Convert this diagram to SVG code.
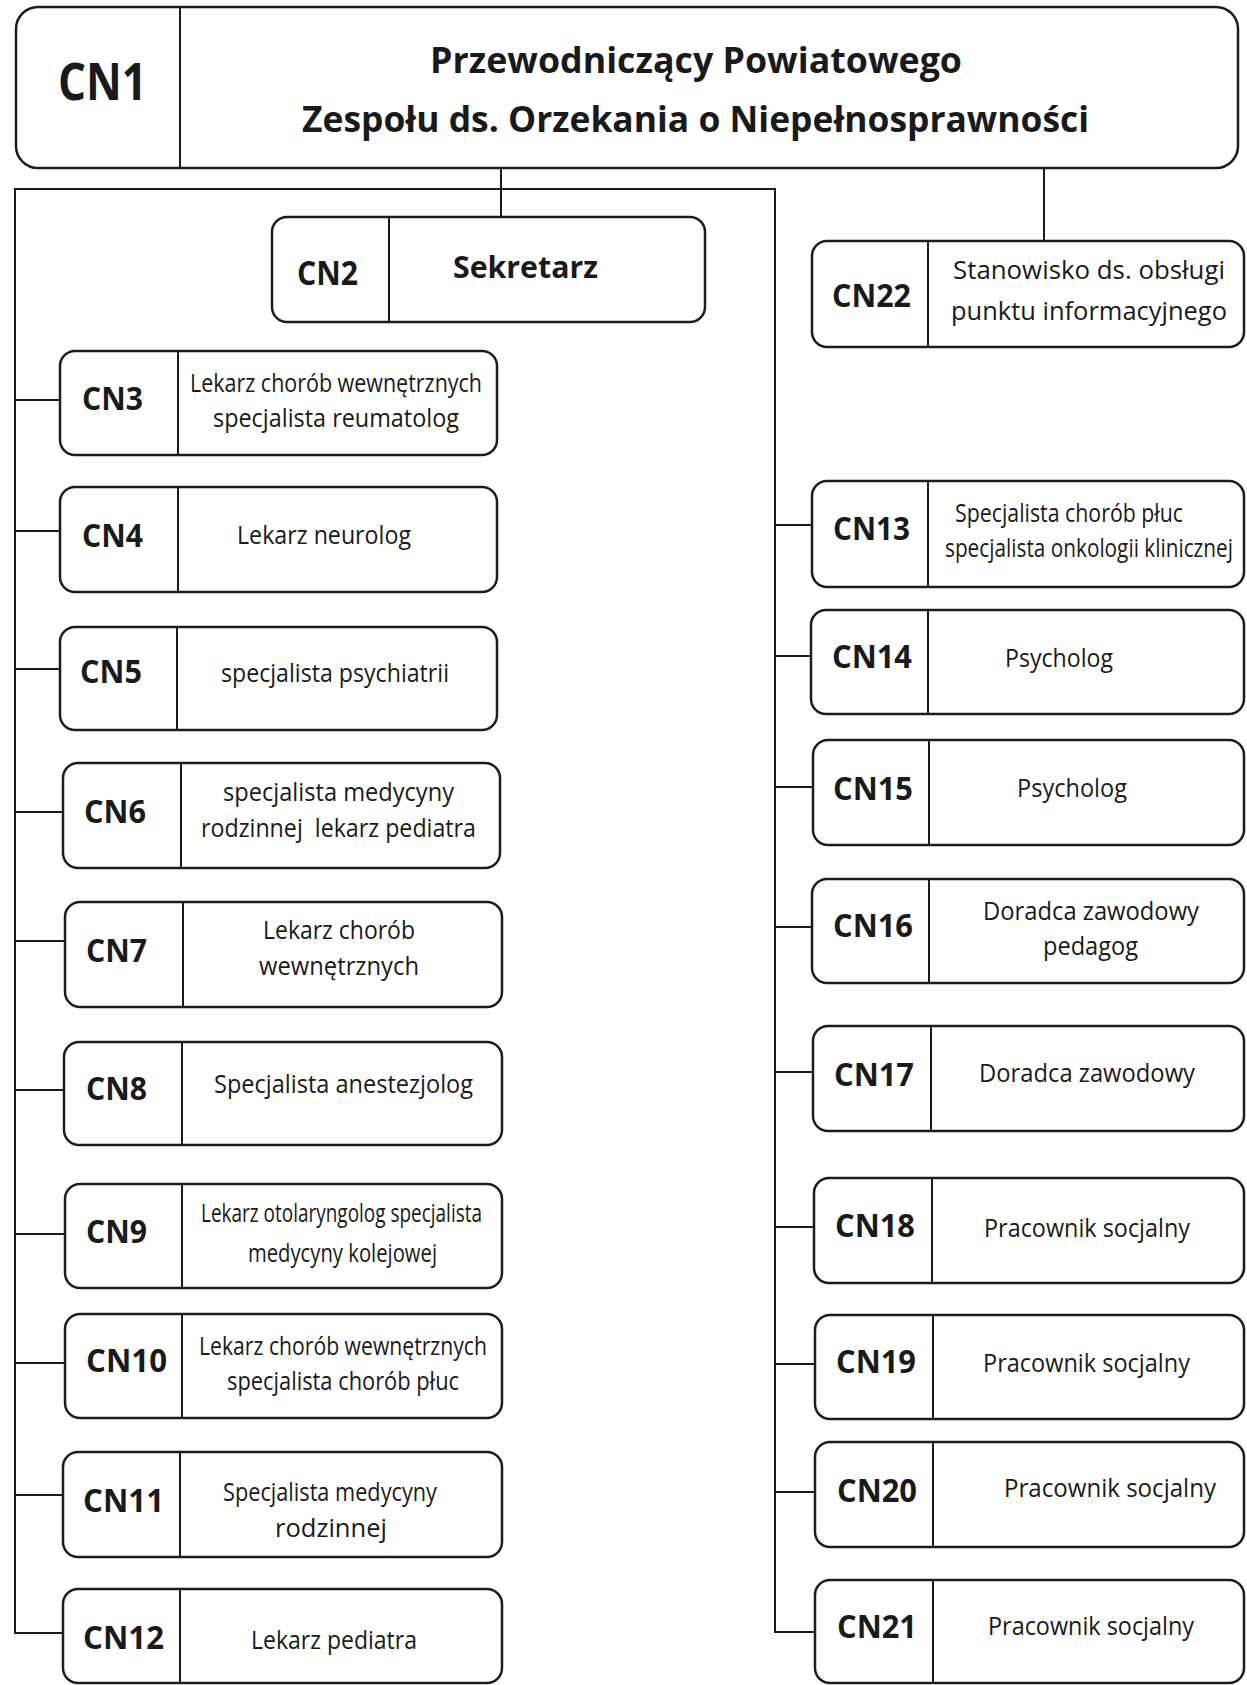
<svg xmlns="http://www.w3.org/2000/svg" width="1247" height="1685" viewBox="0 0 1247 1685">
<style>
.bg{fill:#ffffff}
.box{fill:#ffffff;stroke:#1c1c1c;stroke-width:2.5}
.dv{stroke:#1c1c1c;stroke-width:2}
.cn{stroke:#1c1c1c;stroke-width:2;fill:none}
.id{font-family:'Open Sans','Liberation Sans',sans-serif;font-weight:bold;font-size:32px;fill:#1a1a1a}
.id1{font-family:'Open Sans','Liberation Sans',sans-serif;font-weight:bold;font-size:52px;fill:#1a1a1a}
.id2{font-family:'Open Sans','Liberation Sans',sans-serif;font-weight:bold;font-size:34px;fill:#1a1a1a}
.sk{font-family:'Open Sans','Liberation Sans',sans-serif;font-weight:bold;font-size:31px;fill:#1a1a1a}
.t{font-family:'Open Sans','Liberation Sans',sans-serif;font-size:25px;fill:#1a1a1a}
.h{font-family:'Open Sans','Liberation Sans',sans-serif;font-weight:bold;font-size:36px;fill:#1a1a1a}
</style>
<rect class="bg" x="0" y="0" width="1247" height="1685"/>

<g id="connectors">
<line class="cn" x1="501" y1="168" x2="501" y2="217"/>
<line class="cn" x1="1044" y1="168" x2="1044" y2="241"/>
<path class="cn" d="M15,1633 L15,189 L775,189 L775,1632"/>
<line class="cn" x1="15" y1="400" x2="60" y2="400"/>
<line class="cn" x1="15" y1="531" x2="60" y2="531"/>
<line class="cn" x1="15" y1="669" x2="60" y2="669"/>
<line class="cn" x1="15" y1="812" x2="63" y2="812"/>
<line class="cn" x1="15" y1="941" x2="65" y2="941"/>
<line class="cn" x1="15" y1="1090" x2="64" y2="1090"/>
<line class="cn" x1="15" y1="1234" x2="65" y2="1234"/>
<line class="cn" x1="15" y1="1363" x2="65" y2="1363"/>
<line class="cn" x1="15" y1="1495" x2="63" y2="1495"/>
<line class="cn" x1="14" y1="1633" x2="63" y2="1633"/>
<line class="cn" x1="775" y1="525" x2="812" y2="525"/>
<line class="cn" x1="775" y1="656" x2="811" y2="656"/>
<line class="cn" x1="775" y1="787" x2="813" y2="787"/>
<line class="cn" x1="775" y1="927" x2="812" y2="927"/>
<line class="cn" x1="775" y1="1072" x2="813" y2="1072"/>
<line class="cn" x1="775" y1="1227" x2="814" y2="1227"/>
<line class="cn" x1="775" y1="1364" x2="815" y2="1364"/>
<line class="cn" x1="775" y1="1492" x2="815" y2="1492"/>
<line class="cn" x1="774" y1="1632" x2="815" y2="1632"/>
</g>

<g id="CN1">
<rect class="box" x="16" y="7" width="1222" height="161" rx="22"/>
<line class="dv" x1="180" y1="7" x2="180" y2="168"/>
<text class="id1" x="58" y="100" textLength="89" lengthAdjust="spacingAndGlyphs">CN1</text>
<text class="h" x="430" y="73" textLength="532" lengthAdjust="spacingAndGlyphs">Przewodniczący Powiatowego</text>
<text class="h" x="302" y="132" textLength="787" lengthAdjust="spacingAndGlyphs">Zespołu ds. Orzekania o Niepełnosprawności</text>
</g>

<g id="CN2">
<rect class="box" x="272" y="217" width="433" height="105" rx="15"/>
<line class="dv" x1="389" y1="217" x2="389" y2="322"/>
<text class="id2" x="297" y="285" textLength="61" lengthAdjust="spacingAndGlyphs">CN2</text>
<text class="sk" x="453" y="278" textLength="145" lengthAdjust="spacingAndGlyphs">Sekretarz</text>
</g>

<g id="CN3">
<rect class="box" x="60" y="351" width="437" height="104" rx="15"/>
<line class="dv" x1="178" y1="351" x2="178" y2="455"/>
<text class="id" x="82" y="410" textLength="61" lengthAdjust="spacingAndGlyphs">CN3</text>
<text class="t" x="190" y="392" textLength="292" lengthAdjust="spacingAndGlyphs">Lekarz chorób wewnętrznych</text>
<text class="t" x="213" y="427" textLength="246" lengthAdjust="spacingAndGlyphs">specjalista reumatolog</text>
</g>

<g id="CN4">
<rect class="box" x="60" y="487" width="437" height="105" rx="15"/>
<line class="dv" x1="178" y1="487" x2="178" y2="592"/>
<text class="id" x="82" y="547" textLength="61" lengthAdjust="spacingAndGlyphs">CN4</text>
<text class="t" x="237" y="544" textLength="174" lengthAdjust="spacingAndGlyphs">Lekarz neurolog</text>
</g>

<g id="CN5">
<rect class="box" x="60" y="627" width="437" height="103" rx="15"/>
<line class="dv" x1="177" y1="627" x2="177" y2="730"/>
<text class="id" x="80" y="683" textLength="62" lengthAdjust="spacingAndGlyphs">CN5</text>
<text class="t" x="221" y="682" textLength="228" lengthAdjust="spacingAndGlyphs">specjalista psychiatrii</text>
</g>

<g id="CN6">
<rect class="box" x="63" y="763" width="437" height="105" rx="15"/>
<line class="dv" x1="181" y1="763" x2="181" y2="868"/>
<text class="id" x="84" y="823" textLength="62" lengthAdjust="spacingAndGlyphs">CN6</text>
<text class="t" x="223" y="801" textLength="231" lengthAdjust="spacingAndGlyphs">specjalista medycyny</text>
<text class="t" x="201" y="837" textLength="275" lengthAdjust="spacingAndGlyphs" xml:space="preserve">rodzinnej  lekarz pediatra</text>
</g>

<g id="CN7">
<rect class="box" x="65" y="902" width="437" height="105" rx="15"/>
<line class="dv" x1="183" y1="902" x2="183" y2="1007"/>
<text class="id" x="86" y="962" textLength="61" lengthAdjust="spacingAndGlyphs">CN7</text>
<text class="t" x="263" y="939" textLength="152" lengthAdjust="spacingAndGlyphs">Lekarz chorób</text>
<text class="t" x="259" y="975" textLength="160" lengthAdjust="spacingAndGlyphs">wewnętrznych</text>
</g>

<g id="CN8">
<rect class="box" x="64" y="1042" width="438" height="103" rx="15"/>
<line class="dv" x1="182" y1="1042" x2="182" y2="1145"/>
<text class="id" x="86" y="1100" textLength="61" lengthAdjust="spacingAndGlyphs">CN8</text>
<text class="t" x="214" y="1093" textLength="259" lengthAdjust="spacingAndGlyphs">Specjalista anestezjolog</text>
</g>

<g id="CN9">
<rect class="box" x="65" y="1184" width="437" height="104" rx="15"/>
<line class="dv" x1="182" y1="1184" x2="182" y2="1288"/>
<text class="id" x="86" y="1243" textLength="61" lengthAdjust="spacingAndGlyphs">CN9</text>
<text class="t" x="201" y="1222" textLength="281" lengthAdjust="spacingAndGlyphs">Lekarz otolaryngolog specjalista</text>
<text class="t" x="248" y="1262" textLength="189" lengthAdjust="spacingAndGlyphs">medycyny kolejowej</text>
</g>

<g id="CN10">
<rect class="box" x="65" y="1314" width="437" height="104" rx="15"/>
<line class="dv" x1="182" y1="1314" x2="182" y2="1418"/>
<text class="id" x="86" y="1372" textLength="81" lengthAdjust="spacingAndGlyphs">CN10</text>
<text class="t" x="199" y="1355" textLength="288" lengthAdjust="spacingAndGlyphs">Lekarz chorób wewnętrznych</text>
<text class="t" x="227" y="1390" textLength="232" lengthAdjust="spacingAndGlyphs">specjalista chorób płuc</text>
</g>

<g id="CN11">
<rect class="box" x="63" y="1452" width="439" height="105" rx="15"/>
<line class="dv" x1="180" y1="1452" x2="180" y2="1557"/>
<text class="id" x="83" y="1512" textLength="81" lengthAdjust="spacingAndGlyphs">CN11</text>
<text class="t" x="223" y="1501" textLength="214" lengthAdjust="spacingAndGlyphs">Specjalista medycyny</text>
<text class="t" x="275" y="1537" textLength="112" lengthAdjust="spacingAndGlyphs">rodzinnej</text>
</g>

<g id="CN12">
<rect class="box" x="63" y="1589" width="439" height="94" rx="15"/>
<line class="dv" x1="180" y1="1589" x2="180" y2="1683"/>
<text class="id" x="83" y="1649" textLength="81" lengthAdjust="spacingAndGlyphs">CN12</text>
<text class="t" x="251" y="1649" textLength="166" lengthAdjust="spacingAndGlyphs">Lekarz pediatra</text>
</g>

<g id="CN22">
<rect class="box" x="812" y="241" width="432" height="106" rx="15"/>
<line class="dv" x1="928" y1="241" x2="928" y2="347"/>
<text class="id" x="832" y="307" textLength="79" lengthAdjust="spacingAndGlyphs">CN22</text>
<text class="t" x="953" y="279" textLength="272" lengthAdjust="spacingAndGlyphs">Stanowisko ds. obsługi</text>
<text class="t" x="951" y="320" textLength="276" lengthAdjust="spacingAndGlyphs">punktu informacyjnego</text>
</g>

<g id="CN13">
<rect class="box" x="812" y="481" width="432" height="106" rx="15"/>
<line class="dv" x1="928" y1="481" x2="928" y2="587"/>
<text class="id" x="833" y="540" textLength="77" lengthAdjust="spacingAndGlyphs">CN13</text>
<text class="t" x="955" y="522" textLength="228" lengthAdjust="spacingAndGlyphs">Specjalista chorób płuc</text>
<text class="t" x="945" y="557" textLength="288" lengthAdjust="spacingAndGlyphs">specjalista onkologii klinicznej</text>
</g>

<g id="CN14">
<rect class="box" x="811" y="610" width="433" height="104" rx="15"/>
<line class="dv" x1="928" y1="610" x2="928" y2="714"/>
<text class="id" x="832" y="668" textLength="80" lengthAdjust="spacingAndGlyphs">CN14</text>
<text class="t" x="1005" y="667" textLength="108" lengthAdjust="spacingAndGlyphs">Psycholog</text>
</g>

<g id="CN15">
<rect class="box" x="813" y="740" width="431" height="105" rx="15"/>
<line class="dv" x1="929" y1="740" x2="929" y2="845"/>
<text class="id" x="833" y="800" textLength="80" lengthAdjust="spacingAndGlyphs">CN15</text>
<text class="t" x="1017" y="797" textLength="110" lengthAdjust="spacingAndGlyphs">Psycholog</text>
</g>

<g id="CN16">
<rect class="box" x="812" y="879" width="432" height="104" rx="15"/>
<line class="dv" x1="929" y1="879" x2="929" y2="983"/>
<text class="id" x="833" y="937" textLength="80" lengthAdjust="spacingAndGlyphs">CN16</text>
<text class="t" x="983" y="920" textLength="216" lengthAdjust="spacingAndGlyphs">Doradca zawodowy</text>
<text class="t" x="1043" y="955" textLength="95" lengthAdjust="spacingAndGlyphs">pedagog</text>
</g>

<g id="CN17">
<rect class="box" x="813" y="1026" width="431" height="105" rx="15"/>
<line class="dv" x1="931" y1="1026" x2="931" y2="1131"/>
<text class="id" x="834" y="1086" textLength="80" lengthAdjust="spacingAndGlyphs">CN17</text>
<text class="t" x="979" y="1082" textLength="216" lengthAdjust="spacingAndGlyphs">Doradca zawodowy</text>
</g>

<g id="CN18">
<rect class="box" x="814" y="1178" width="430" height="105" rx="15"/>
<line class="dv" x1="932" y1="1178" x2="932" y2="1283"/>
<text class="id" x="835" y="1237" textLength="80" lengthAdjust="spacingAndGlyphs">CN18</text>
<text class="t" x="984" y="1237" textLength="206" lengthAdjust="spacingAndGlyphs">Pracownik socjalny</text>
</g>

<g id="CN19">
<rect class="box" x="815" y="1315" width="429" height="104" rx="15"/>
<line class="dv" x1="933" y1="1315" x2="933" y2="1419"/>
<text class="id" x="836" y="1373" textLength="80" lengthAdjust="spacingAndGlyphs">CN19</text>
<text class="t" x="983" y="1372" textLength="207" lengthAdjust="spacingAndGlyphs">Pracownik socjalny</text>
</g>

<g id="CN20">
<rect class="box" x="815" y="1442" width="429" height="105" rx="15"/>
<line class="dv" x1="933" y1="1442" x2="933" y2="1547"/>
<text class="id" x="837" y="1502" textLength="80" lengthAdjust="spacingAndGlyphs">CN20</text>
<text class="t" x="1004" y="1497" textLength="212" lengthAdjust="spacingAndGlyphs">Pracownik socjalny</text>
</g>

<g id="CN21">
<rect class="box" x="815" y="1580" width="429" height="103" rx="15"/>
<line class="dv" x1="933" y1="1580" x2="933" y2="1683"/>
<text class="id" x="837" y="1638" textLength="80" lengthAdjust="spacingAndGlyphs">CN21</text>
<text class="t" x="988" y="1635" textLength="206" lengthAdjust="spacingAndGlyphs">Pracownik socjalny</text>
</g>
</svg>
